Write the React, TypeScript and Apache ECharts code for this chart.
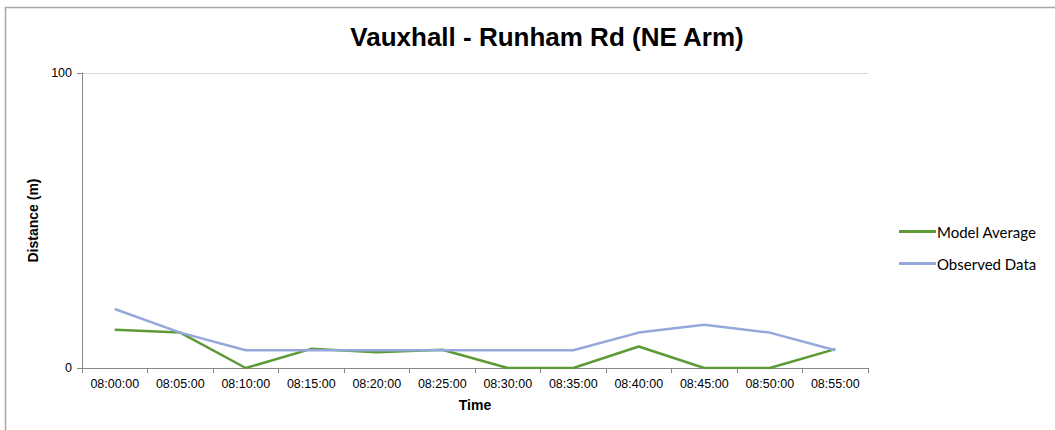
import React, { useEffect, useRef } from "react";
import * as echarts from "echarts";

const categories = [
  "08:00:00", "08:05:00", "08:10:00", "08:15:00", "08:20:00", "08:25:00",
  "08:30:00", "08:35:00", "08:40:00", "08:45:00", "08:50:00", "08:55:00",
];
const modelAverage = [13, 12, 0, 6.5, 5.3, 6.2, 0, 0, 7.3, 0, 0, 6.4];
const observedData = [20, 12, 6, 6, 6, 6, 6, 6, 12, 14.7, 12, 6];
const yTicks = { min: 0, max: 100, interval: 100 };

const AR = "Liberation Sans";

export default function App() {
  const ref = useRef<HTMLDivElement>(null);
  useEffect(() => {
    if (!ref.current) return;
    const chart = echarts.init(ref.current, null, { renderer: "svg" });
    chart.setOption({
      animation: false,
      backgroundColor: "#ffffff",
      title: {
        text: "Vauxhall - Runham Rd (NE Arm)",
        left: 542,
        textAlign: "center",
        top: 19,
        textStyle: { fontFamily: AR, fontWeight: "bold", fontSize: 26, color: "#000" },
      },
      graphic: [
        { type: "line", shape: { x1: 5, y1: 7.5, x2: 1055, y2: 7.5 }, style: { stroke: "#a6a6a6", lineWidth: 1.5 } },
        { type: "line", shape: { x1: 5.5, y1: 7, x2: 5.5, y2: 430 }, style: { stroke: "#a6a6a6", lineWidth: 1.5 } },
      ],
      grid: { left: 82, right: 187, top: 73, bottom: 62 },
      legend: {
        orient: "vertical",
        left: 894,
        top: 219,
        itemWidth: 37,
        itemHeight: 3,
        itemGap: 17,
        icon: "rect",
        textStyle: { fontFamily: "Lato", fontSize: 15, color: "#000", padding: [0, 0, 0, -4] },
        data: ["Model Average", "Observed Data"],
      },
      xAxis: {
        type: "category",
        data: categories,
        boundaryGap: true,
        name: "Time",
        nameLocation: "middle",
        nameGap: 30,
        nameTextStyle: { fontFamily: AR, fontWeight: "bold", fontSize: 14, color: "#000" },
        axisLine: { lineStyle: { color: "#868686", width: 1 } },
        axisTick: { show: true, interval: 0, length: 5, lineStyle: { color: "#868686" } },
        axisLabel: { interval: 0, margin: 9, fontFamily: AR, fontSize: 12.5, color: "#000" },
      },
      yAxis: {
        type: "value",
        min: yTicks.min,
        max: yTicks.max,
        interval: yTicks.interval,
        name: "Distance (m)",
        nameLocation: "middle",
        nameGap: 33,
        nameTextStyle: { fontFamily: AR, fontWeight: "bold", fontSize: 14, color: "#000" },
        axisLine: { show: true, lineStyle: { color: "#868686", width: 1 } },
        axisTick: { show: true, length: 5, lineStyle: { color: "#868686" } },
        axisLabel: { margin: 10, fontFamily: AR, fontSize: 12.5, color: "#000" },
        splitLine: { show: true, lineStyle: { color: "#d9d9d9", width: 1 } },
      },
      series: [
        {
          name: "Model Average",
          type: "line",
          data: modelAverage,
          symbol: "none",
          itemStyle: { color: "#5b9a36" },
          lineStyle: { color: "#5b9a36", width: 2.5 },
        },
        {
          name: "Observed Data",
          type: "line",
          data: observedData,
          symbol: "none",
          itemStyle: { color: "#94a8dc" },
          lineStyle: { color: "#94a8dc", width: 2.5 },
        },
      ],
    });
    return () => chart.dispose();
  }, []);
  return (
    <div
      ref={ref}
      style={{ position: "fixed", left: 0, top: 0, width: 1055, height: 430 }}
    />
  );
}
